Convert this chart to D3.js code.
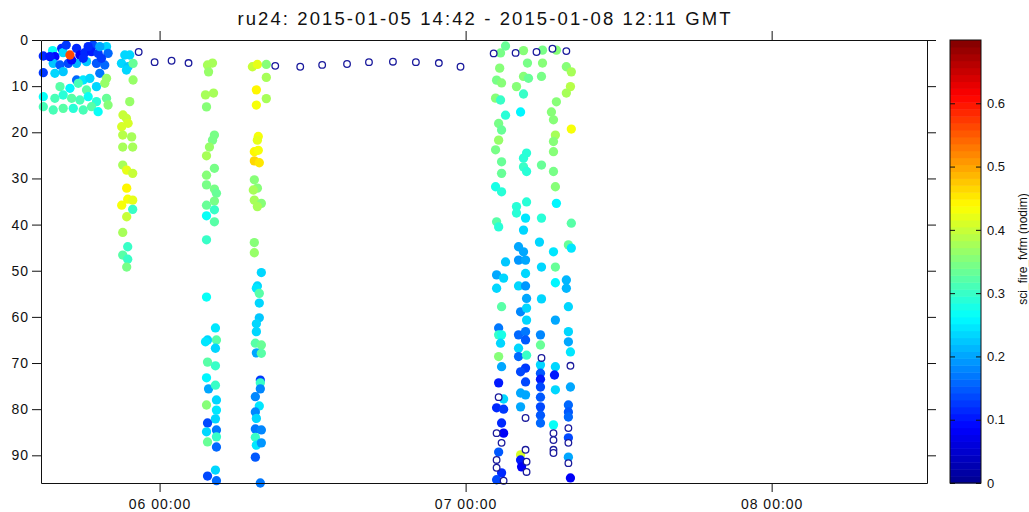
<!DOCTYPE html>
<html>
<head>
<meta charset="utf-8">
<script src="https://cdn.jsdelivr.net/npm/d3@7"></script>
<style>
  html, body { margin: 0; padding: 0; background: #fff; }
  svg { display: block; font-family: "Liberation Sans", Arial, Helvetica, sans-serif; }
</style>
</head>
<body>
<div id="chart"></div>
<script>
// time span of the deployment segment (GMT)
const startTime = Date.UTC(2015, 0, 5, 14, 42)
const endTime = Date.UTC(2015, 0, 8, 12, 11)
const titleText = "ru24: 2015-01-05 14:42 - 2015-01-08 12:11 GMT"
const colorLabel = "sci_fire_fvfm (nodim)"

const depthTicks = [0, 10, 20, 30, 40, 50, 60, 70, 80, 90]
const colorTicks = [0, 0.1, 0.2, 0.3, 0.4, 0.5, 0.6]

// [hours since start, depth (m), fvfm]
const surfaceBurst = [
    [0.18, 3.47, 0.12], [0.18, 7.08, 0.13], [0.91, 2.31, 0.27], [1.09, 3.61, 0.09], [1.62, 1.81, 0.12],
    [1.74, 2.74, 0.24], [2.79, 1.81, 0.11], [3.05, 3.25, 0.08], [3.44, 2.74, 0.12],
    [4.09, 1.08, 0.14], [3.96, 2.53, 0.10], [4.48, 2.89, 0.13], [5.14, 1.44, 0.23], [5.26, 2.89, 0.16],
    [0.96, 5.06, 0.22], [1.49, 5.42, 0.15], [2.14, 5.06, 0.14], [2.79, 5.06, 0.21], [3.57, 4.69, 0.22],
    [4.35, 5.06, 0.15], [5.00, 5.42, 0.16], [1.09, 7.22, 0.24], [1.74, 6.86, 0.22], [2.79, 8.67, 0.16],
    [3.31, 8.67, 0.25], [3.83, 8.31, 0.23], [4.61, 7.22, 0.17], [5.14, 8.31, 0.37], [1.49, 10.11, 0.32],
    [2.27, 10.47, 0.26], [2.92, 9.39, 0.31], [3.57, 10.83, 0.32], [4.35, 10.11, 0.24], [5.00, 9.39, 0.37],
    [0.18, 12.28, 0.27], [1.09, 12.64, 0.31], [1.74, 11.92, 0.29], [2.40, 12.64, 0.32], [3.05, 13.0, 0.31],
    [3.70, 12.28, 0.27], [4.35, 13.36, 0.29], [5.14, 12.64, 0.33], [0.18, 14.45, 0.31], [0.96, 15.17, 0.31],
    [1.74, 14.81, 0.32], [2.53, 14.81, 0.29], [3.31, 15.17, 0.31], [3.96, 14.45, 0.32], [4.48, 15.53, 0.27],
    [5.26, 14.08, 0.36], [1.98, 1.08, 0.13], [3.70, 1.44, 0.12], [4.61, 1.44, 0.20], [2.40, 4.33, 0.09],
    [3.31, 3.97, 0.11], [0.70, 3.61, 0.10], [4.74, 3.97, 0.13], [2.27, 3.25, 0.56]
]

const dive1 = [
    [6.57, 3.25, 0.24], [6.96, 3.25, 0.23], [6.31, 5.06, 0.24], [6.83, 5.78, 0.22], [6.70, 6.5, 0.23],
    [7.22, 5.06, 0.33], [7.22, 8.67, 0.37], [6.96, 13.36, 0.37], [6.43, 16.25, 0.40], [6.70, 16.97, 0.40],
    [6.83, 18.05, 0.41], [6.33, 18.8, 0.41], [6.41, 20.6, 0.39], [7.11, 21.0, 0.38], [6.41, 23.2, 0.38],
    [7.19, 23.2, 0.38], [6.41, 27.1, 0.38], [6.72, 28.2, 0.42], [7.19, 28.9, 0.40], [6.72, 32.1, 0.44],
    [6.80, 34.5, 0.43], [7.19, 34.7, 0.42], [6.33, 35.8, 0.43], [7.19, 36.7, 0.30], [6.72, 38.3, 0.40],
    [6.41, 41.7, 0.38], [6.80, 44.8, 0.30], [6.41, 46.6, 0.32], [6.80, 47.5, 0.30], [6.72, 49.2, 0.34]
]

const dive2 = [
    [13.06, 5.4, 0.38], [13.45, 5.0, 0.38], [13.14, 6.9, 0.37], [12.90, 11.9, 0.38], [13.53, 11.5, 0.38],
    [12.98, 14.5, 0.35], [13.60, 20.6, 0.34], [13.45, 21.7, 0.34], [13.21, 23.2, 0.37], [12.98, 25.1, 0.38],
    [12.98, 29.3, 0.35], [13.60, 27.8, 0.34], [12.98, 31.4, 0.34], [13.60, 32.3, 0.34], [13.76, 33.2, 0.33],
    [13.60, 34.9, 0.34], [12.98, 35.8, 0.33], [13.60, 36.8, 0.30], [12.98, 38.1, 0.27], [13.60, 39.4, 0.32],
    [12.98, 43.3, 0.30], [12.98, 55.7, 0.27], [13.68, 62.4, 0.25], [13.06, 65.0, 0.24], [12.90, 65.4, 0.25],
    [13.76, 65.0, 0.32], [13.68, 66.8, 0.24], [13.06, 69.8, 0.32], [13.68, 70.6, 0.30], [12.98, 73.2, 0.26],
    [13.14, 75.6, 0.20], [13.68, 74.8, 0.30], [13.76, 78.0, 0.24], [12.98, 79.1, 0.35], [13.76, 80.2, 0.25],
    [13.68, 82.1, 0.24], [13.06, 83.0, 0.14], [13.76, 84.5, 0.17], [12.98, 84.9, 0.24], [13.76, 86.0, 0.30],
    [13.06, 87.1, 0.33], [13.76, 88.2, 0.16], [13.68, 93.2, 0.24], [13.06, 94.5, 0.14], [13.76, 95.5, 0.16]
]

const dive3 = [
    [16.58, 5.8, 0.40], [16.97, 5.3, 0.42], [17.67, 5.3, 0.35], [17.67, 8.1, 0.38], [16.89, 10.8, 0.44],
    [17.67, 12.7, 0.38], [16.89, 14.1, 0.43], [17.04, 20.9, 0.43], [16.97, 21.7, 0.42], [16.73, 24.2, 0.44],
    [17.04, 23.9, 0.43], [16.73, 26.2, 0.46], [17.12, 26.6, 0.45], [16.73, 30.3, 0.36], [16.97, 32.1, 0.35],
    [16.65, 32.5, 0.38], [16.73, 34.7, 0.38], [17.28, 35.4, 0.36], [16.97, 36.1, 0.38], [16.73, 43.9, 0.35],
    [16.73, 46.1, 0.37], [17.28, 50.4, 0.24], [16.97, 53.3, 0.24], [16.89, 53.8, 0.25], [17.12, 54.9, 0.32],
    [17.12, 57.0, 0.24], [17.12, 60.2, 0.22], [16.89, 61.5, 0.23], [16.89, 63.2, 0.24], [16.81, 65.7, 0.32],
    [17.28, 66.1, 0.33], [16.89, 67.8, 0.20], [17.28, 67.9, 0.32], [17.20, 73.7, 0.13], [17.20, 74.3, 0.30],
    [17.20, 75.6, 0.18], [16.81, 77.3, 0.18], [17.12, 79.3, 0.25], [16.81, 80.6, 0.18], [16.89, 82.0, 0.24],
    [16.81, 84.3, 0.17], [17.28, 84.5, 0.18], [16.81, 86.1, 0.30], [16.89, 87.8, 0.25], [17.28, 87.3, 0.19],
    [16.81, 90.4, 0.15], [17.20, 96.0, 0.17]
]

const dives07 = [
    [36.04, 2.8, 0.34], [36.43, 1.3, 0.33], [37.84, 2.3, 0.35], [39.33, 2.2, 0.34], [40.42, 2.2, 0.36],
    [35.97, 6.1, 0.35], [38.15, 5.0, 0.34], [39.33, 5.0, 0.35], [41.20, 5.8, 0.36], [41.59, 6.9, 0.38],
    [35.73, 8.7, 0.34], [36.12, 9.3, 0.35], [37.29, 10.1, 0.35], [37.84, 7.9, 0.35], [38.23, 8.3, 0.33],
    [39.25, 7.9, 0.34], [41.52, 10.1, 0.39], [41.20, 11.5, 0.38], [37.84, 11.7, 0.30], [35.65, 12.6, 0.36],
    [36.04, 13.0, 0.30], [40.42, 13.4, 0.36], [37.61, 15.6, 0.26], [36.43, 16.3, 0.29], [40.03, 15.6, 0.35],
    [40.19, 17.3, 0.36], [35.89, 18.1, 0.34], [41.59, 19.3, 0.43], [36.12, 19.5, 0.33], [40.34, 20.6, 0.38],
    [35.89, 21.7, 0.37], [40.19, 22.0, 0.35], [35.65, 23.8, 0.34], [40.19, 24.2, 0.35], [38.08, 24.5, 0.29],
    [37.84, 25.6, 0.29], [36.12, 26.4, 0.33], [39.25, 27.1, 0.33], [37.84, 27.5, 0.30], [38.08, 28.5, 0.29],
    [36.12, 28.9, 0.33], [40.19, 28.5, 0.34], [40.34, 31.8, 0.35], [35.65, 31.8, 0.28], [36.12, 32.9, 0.29],
    [40.42, 35.4, 0.26], [38.08, 35.1, 0.29], [37.29, 36.1, 0.29], [37.29, 37.5, 0.29], [38.00, 38.6, 0.25],
    [39.25, 38.6, 0.29], [35.73, 39.4, 0.32], [35.89, 40.5, 0.29], [41.59, 39.7, 0.32], [37.84, 41.2, 0.24],
    [39.09, 43.8, 0.24], [41.36, 44.4, 0.33], [41.59, 45.1, 0.25], [40.19, 45.9, 0.25], [37.45, 44.8, 0.20],
    [37.84, 45.9, 0.20], [37.45, 47.7, 0.19], [38.00, 47.7, 0.20], [36.43, 48.1, 0.22], [39.25, 49.2, 0.24],
    [40.34, 49.2, 0.33], [35.73, 50.9, 0.20], [36.28, 51.6, 0.24], [38.00, 50.6, 0.24], [40.34, 52.6, 0.26],
    [41.20, 52.0, 0.21], [35.73, 53.8, 0.24], [37.45, 53.3, 0.24], [38.00, 53.3, 0.19], [41.20, 53.8, 0.21],
    [38.08, 56.0, 0.20], [39.25, 56.1, 0.24], [36.12, 57.8, 0.32], [37.61, 58.9, 0.18], [38.08, 58.1, 0.24],
    [41.36, 57.8, 0.24], [38.08, 60.7, 0.24], [40.34, 60.7, 0.20], [35.89, 62.4, 0.17], [39.17, 63.9, 0.18],
    [37.45, 63.9, 0.16], [38.00, 63.2, 0.17], [35.89, 63.9, 0.30], [36.12, 63.9, 0.28], [41.36, 63.2, 0.24],
    [36.04, 65.7, 0.24], [37.45, 66.8, 0.24], [39.17, 66.1, 0.33], [41.36, 65.4, 0.20], [38.00, 65.0, 0.15],
    [41.52, 67.6, 0.25], [35.89, 68.6, 0.35], [37.45, 68.6, 0.16], [38.08, 68.3, 0.30], [36.12, 70.8, 0.20],
    [38.00, 71.1, 0.13], [39.17, 70.4, 0.24], [40.34, 70.8, 0.24], [37.61, 71.9, 0.14], [39.17, 72.2, 0.15],
    [40.27, 72.6, 0.10], [35.89, 74.3, 0.10], [38.00, 74.1, 0.14], [39.17, 73.5, 0.10], [39.17, 75.2, 0.14],
    [40.34, 75.8, 0.24], [41.52, 75.2, 0.20], [36.28, 77.8, 0.24], [37.61, 76.5, 0.20], [38.00, 76.9, 0.20],
    [39.17, 77.4, 0.15], [35.73, 79.7, 0.12], [36.28, 80.0, 0.13], [37.61, 79.5, 0.20], [39.17, 79.5, 0.14],
    [41.36, 79.1, 0.16], [41.36, 80.6, 0.15], [41.36, 81.7, 0.16], [36.12, 83.0, 0.12], [39.17, 81.3, 0.15],
    [39.17, 83.0, 0.16], [40.19, 83.4, 0.27], [36.28, 85.2, 0.08], [41.36, 86.2, 0.14], [35.89, 89.3, 0.15],
    [37.61, 89.9, 0.41], [37.61, 91.0, 0.10], [41.36, 90.4, 0.20], [37.69, 92.5, 0.08], [36.12, 93.8, 0.12],
    [35.73, 95.3, 0.14], [41.52, 94.9, 0.08]
]

// samples without a fvfm value: [hours since start, depth (m)]
const noFvfm = [
    [7.66, 2.6], [8.91, 4.8], [10.24, 4.5], [11.57, 5.0], [18.37, 5.6], [20.33, 5.8], [22.05, 5.4],
    [24.0, 5.2], [25.72, 4.8], [27.6, 4.7], [29.4, 4.8], [31.2, 5.0], [32.9, 5.8], [35.50, 2.9],
    [37.22, 2.8], [38.86, 2.6], [40.11, 1.9], [41.20, 2.4], [39.25, 68.9], [41.52, 70.6], [35.89, 77.4],
    [38.00, 81.9], [41.36, 84.1], [35.73, 85.2], [40.19, 85.2], [40.19, 86.7], [36.12, 87.3], [41.36, 87.3],
    [40.19, 88.8], [40.19, 89.5], [38.00, 88.8], [35.73, 91.0], [38.08, 91.4], [41.36, 91.7], [35.73, 92.7],
    [38.08, 93.6], [36.28, 95.5]
]

const width = 1029
const height = 512
const marginLeft = 41
const plotRight = 927
const marginTop = 40
const plotBottom = 483
const barLeft = 950
const barWidth = 31
const cMax = 0.7

const toDate = h => new Date(startTime + h * 3600e3)

const x = d3.scaleUtc()
    .domain([new Date(startTime), new Date(endTime)])
    .range([marginLeft, plotRight])

const y = d3.scaleLinear()
    .domain([0, 96])
    .range([marginTop, plotBottom])

// jet colormap, 64 levels
const jet = d3.scaleLinear()
    .domain([0, 1 / 8, 3 / 8, 5 / 8, 7 / 8, 1].map(f => f * cMax))
    .range(["#00008f", "#0000ff", "#00ffff", "#ffff00", "#ff0000", "#800000"])
    .clamp(true)
const nLevels = 64
const color = v => {
    const i = Math.min(nLevels - 1, Math.floor(v / cMax * nLevels))
    return jet((i + 0.5) / nLevels * cMax)
}

const svg = d3.select("#chart").append("svg")
    .attr("width", width)
    .attr("height", height)
    .attr("viewBox", [0, 0, width, height])

svg.append("rect").attr("width", width).attr("height", height).attr("fill", "#fff")

// title
svg.append("text")
    .attr("x", (marginLeft + plotRight) / 2 + 1)
    .attr("y", 25)
    .attr("text-anchor", "middle")
    .attr("font-size", 18.5)
    .attr("letter-spacing", 2.1)
    .attr("fill", "#111")
    .text(titleText)

// filled samples
const filled = [...surfaceBurst, ...dive1, ...dive2, ...dive3, ...dives07]
const plot = svg.append("g")

plot.append("g")
    .selectAll("path")
    .data(filled)
    .join("path")
    .attr("transform", d => `translate(${x(toDate(d[0]))},${y(d[1])})`)
    .attr("d", d3.symbol(d3.symbolCircle, 68))
    .attr("fill", d => color(d[2]))

plot.append("g")
    .selectAll("circle")
    .data(noFvfm)
    .join("circle")
    .attr("cx", d => x(toDate(d[0])))
    .attr("cy", d => y(d[1]))
    .attr("r", 3.3)
    .attr("fill", "#fff")
    .attr("stroke", "#1a1a9c")
    .attr("stroke-width", 1.3)

// axes
const dayTicks = d3.utcDay.range(new Date(startTime), new Date(endTime))
const axisFont = g => g.attr("font-family", null).attr("font-size", 14).attr("letter-spacing", 1)

svg.append("g")
    .attr("transform", `translate(0,${plotBottom})`)
    .call(d3.axisBottom(x).tickValues(dayTicks).tickFormat(d3.utcFormat("%d %H:%M")).tickSize(9).tickSizeOuter(0).tickPadding(7))
    .call(axisFont)

svg.append("g")
    .attr("transform", `translate(0,${marginTop})`)
    .call(d3.axisTop(x).tickValues(dayTicks).tickFormat("").tickSize(9).tickSizeOuter(0))

svg.append("g")
    .attr("transform", `translate(${marginLeft},0)`)
    .call(d3.axisLeft(y).tickValues(depthTicks).tickSize(9).tickSizeOuter(0).tickPadding(3))
    .call(axisFont)

svg.append("g")
    .attr("transform", `translate(${plotRight},0)`)
    .call(d3.axisRight(y).tickValues(depthTicks).tickFormat("").tickSize(9).tickSizeOuter(0))

svg.selectAll(".domain, .tick line").attr("stroke", "#111")
svg.selectAll(".tick text").attr("fill", "#111")

// colorbar
const c = d3.scaleLinear().domain([0, cMax]).range([plotBottom, marginTop])
const bar = svg.append("g")

bar.selectAll("rect")
    .data(d3.range(nLevels))
    .join("rect")
    .attr("x", barLeft)
    .attr("width", barWidth)
    .attr("y", i => c((i + 1) / nLevels * cMax))
    .attr("height", i => c(i / nLevels * cMax) - c((i + 1) / nLevels * cMax) + 0.5)
    .attr("fill", i => jet((i + 0.5) / nLevels * cMax))

bar.append("rect")
    .attr("x", barLeft)
    .attr("y", marginTop)
    .attr("width", barWidth)
    .attr("height", plotBottom - marginTop)
    .attr("fill", "none")
    .attr("stroke", "#111")

bar.append("g")
    .attr("transform", `translate(${barLeft + barWidth},0)`)
    .call(d3.axisRight(c).tickValues(colorTicks).tickFormat(d3.format("")).tickSize(-5).tickSizeOuter(0).tickPadding(6))
    .call(g => g.select(".domain").remove())
    .call(g => g.attr("font-family", null).attr("font-size", 13))
    .call(g => g.selectAll(".tick line").attr("stroke", "#111"))
    .call(g => g.selectAll(".tick text").attr("fill", "#111"))

bar.append("g")
    .attr("transform", `translate(${barLeft},0)`)
    .call(d3.axisRight(c).tickValues(colorTicks).tickFormat("").tickSize(5).tickSizeOuter(0))
    .call(g => g.select(".domain").remove())
    .call(g => g.selectAll(".tick line").attr("stroke", "#111"))

svg.append("text")
    .attr("transform", `translate(1027,249) rotate(-90)`)
    .attr("text-anchor", "middle")
    .attr("font-size", 12)
    .attr("fill", "#111")
    .text(colorLabel)
</script>
</body>
</html>
